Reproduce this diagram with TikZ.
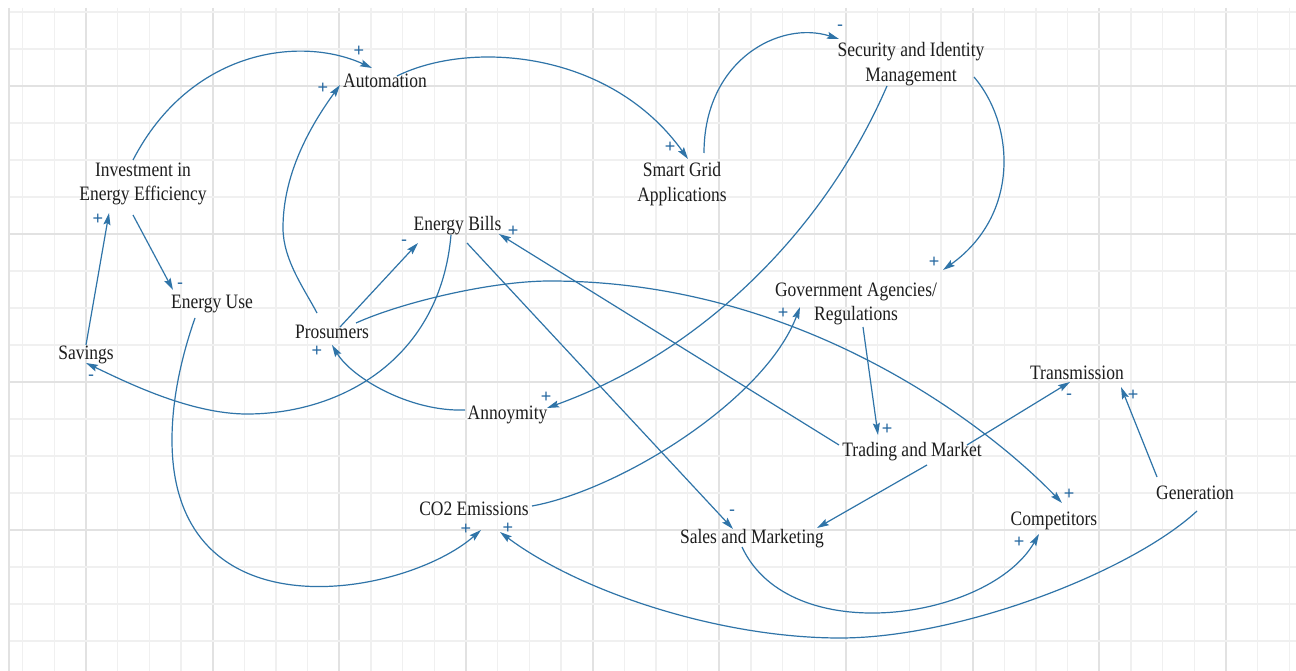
\documentclass[tikz,border=0pt]{standalone}
\usepackage{fontspec}
\setmainfont{Liberation Serif}
\newfontfamily\ldsignface{Liberation Sans}
\usetikzlibrary{arrows.meta}

\definecolor{linkblue}{HTML}{2F74A8}
\definecolor{signblue}{HTML}{2467A0}
\definecolor{labeltext}{HTML}{1E1E1E}
\definecolor{gridminor}{HTML}{F0F0F0}
\definecolor{gridmajor}{HTML}{E2E2E2}

\newcommand{\ldvarfont}{\fontsize{17.5}{21}\selectfont}
\newcommand{\ldsignfont}{\ldsignface\fontsize{18}{18}\selectfont}

\tikzset{
  var/.style={font=\ldvarfont, text=labeltext, align=center, inner sep=0pt, yscale=1.17},
  sign/.style={font=\ldsignfont, text=signblue, inner sep=0pt},
  link/.style={draw=linkblue, line width=1.2pt,
    -{Stealth[length=12pt,width=7pt,inset=2pt]}},
  minorline/.style={draw=gridminor, line width=1.6pt},
  majorline/.style={draw=gridmajor, line width=1.8pt},
}

\begin{document}
\begin{tikzpicture}[x=1pt,y=-1pt]
% canvas
\useasboundingbox (0,0) rectangle (1296,671);
\fill[white] (0,0) rectangle (1296,671);

% background grid
\foreach \k in {0,...,40}{
  \pgfmathsetmacro\gx{22.667+31.667*\k}
  \pgfmathtruncatemacro\m{mod(\k,4)}
  \ifnum\m=2
    \draw[majorline] (\gx,8) -- (\gx,671);
  \else
    \draw[minorline] (\gx,8) -- (\gx,671);
  \fi
}
\foreach \k in {0,...,17}{
  \pgfmathsetmacro\gy{12+37*\k}
  \pgfmathtruncatemacro\m{mod(\k,4)}
  \ifnum\m=2
    \draw[majorline] (9,\gy) -- (1296,\gy);
  \else
    \draw[minorline] (9,\gy) -- (1296,\gy);
  \fi
}
\draw[majorline] (9,8) -- (9,671);

% variables
\node[var] (inv)   at (143,184)   {Investment in\\Energy Efficiency};
\node[var] (auto)  at (385,81)    {Automation};
\node[var] (sga)   at (682,184)   {Smart Grid\\Applications};
\node[var] (sec)   at (911,64)    {Security and Identity\\Management};
\node[var] (bills) at (457.5,226) {Energy Bills};
\node[var] (use)   at (212,304)   {Energy Use};
\node[var] (sav)   at (86,355)    {Savings};
\node[var] (pros)  at (332,332)   {Prosumers};
\node[var] (anno)  at (507.5,415) {Annoymity};
\node[var] (gov)   at (856,304)   {Government Agencies/\\Regulations};
\node[var] (trans) at (1077,373)  {Transmission};
\node[var] (trade) at (912,452)   {Trading and Market};
\node[var] (sales) at (752,539)   {Sales and Marketing};
\node[var] (comp)  at (1054,521)  {Competitors};
\node[var] (gen)   at (1195,493)  {Generation};
\node[var] (co2)   at (474,509)   {CO2 Emissions};

% causal links
\draw[link] ([shift={(-10,-24)}]inv.center) .. controls (190,50) and (300,35) .. ([shift={(-13,-13)}]auto.center);
\draw[link] ([shift={(-15,-19)}]pros.center) .. controls (305,290) and (283,260) .. (283,228)
            .. controls (283,185) and (300,140) .. ([shift={(-45,4)}]auto.center);
\draw[link] ([shift={(12,-5)}]auto.center) .. controls (470,40) and (610,50) .. ([shift={(6,-25)}]sga.center);
\draw[link] ([shift={(22,-31)}]sga.center) .. controls (704,60) and (780,20) .. ([shift={(-72,-25)}]sec.center);
\draw[link] ([shift={(63,13)}]sec.center) .. controls (1015,125) and (1020,215) .. ([shift={(87,-34)}]gov.center);
\draw[link] ([shift={(-24,22)}]sec.center) .. controls (822,236) and (697,354) .. ([shift={(39.5,-7)}]anno.center);
\draw[link] ([shift={(-10,31)}]inv.center) -- ([shift={(-39,-14)}]use.center);
\draw[link] ([shift={(0,-10)}]sav.center) -- ([shift={(-34,29)}]inv.center);
\draw[link] ([shift={(-6.5,9)}]bills.center) .. controls (440,360) and (340,414) .. (247,414)
            .. controls (190,414) and (126,382) .. ([shift={(0,8)}]sav.center);
\draw[link] ([shift={(8,-5)}]pros.center) -- ([shift={(-39.5,17)}]bills.center);
\draw[link] ([shift={(-42.5,-5)}]anno.center) .. controls (410,412) and (352,378) .. ([shift={(0,13)}]pros.center);
\draw[link] ([shift={(24,-9)}]pros.center) .. controls (400,303) and (490,281) .. (550,281)
            .. controls (800,281) and (986,424) .. ([shift={(8,-18)}]comp.center);
\draw[link] ([shift={(9.5,17)}]bills.center) -- ([shift={(-19,-10)}]sales.center);
\draw[link] ([shift={(-73,-7)}]trade.center) -- ([shift={(41.5,8)}]bills.center);
\draw[link] ([shift={(7,23)}]gov.center) -- ([shift={(-34,-17)}]trade.center);
\draw[link] ([shift={(58,-3)}]co2.center) .. controls (620,490) and (765,400) .. ([shift={(-56,3)}]gov.center);
\draw[link] ([shift={(15,13)}]trade.center) -- ([shift={(65,-11)}]sales.center);
\draw[link] ([shift={(55,-7)}]trade.center) -- ([shift={(-7,9)}]trans.center);
\draw[link] ([shift={(-38,-16)}]gen.center) -- ([shift={(44,14)}]trans.center);
\draw[link] ([shift={(2,18)}]gen.center) .. controls (1131,572) and (960,638) .. (840,638)
            .. controls (720,638) and (580,592) .. ([shift={(26,23)}]co2.center);
\draw[link] ([shift={(-17,14)}]use.center) .. controls (181,358) and (172,400) .. (172,440)
            .. controls (172,640) and (406,596) .. ([shift={(7,21)}]co2.center);
\draw[link] ([shift={(-10,8)}]sales.center) .. controls (790,650) and (990,620) .. ([shift={(-15,13)}]comp.center);

% link polarities
\node[sign] (s1)  at (359,51)   {+};
\node[sign] (s2)  at (323,88)   {+};
\node[sign] (s3)  at (670,147)  {+};
\node[sign] (s4)  at (840,28)   {-};
\node[sign] (s5)  at (934,262)  {+};
\node[sign] (s6)  at (546,397)  {+};
\node[sign] (s7)  at (180,286)  {-};
\node[sign] (s8)  at (98,219)   {+};
\node[sign] (s9)  at (91,378)   {-};
\node[sign] (s10) at (404,243)  {-};
\node[sign] (s11) at (317,351)  {+};
\node[sign] (s12) at (1069,494) {+};
\node[sign] (s13) at (732,513)  {-};
\node[sign] (s14) at (513,231)  {+};
\node[sign] (s15) at (887,429)  {+};
\node[sign] (s16) at (783,313)  {+};
\node[sign] (s17) at (1069,397) {-};
\node[sign] (s18) at (1133,395) {+};
\node[sign] (s19) at (508,528)  {+};
\node[sign] (s20) at (466,529)  {+};
\node[sign] (s21) at (1019,542) {+};
\end{tikzpicture}
\end{document}
